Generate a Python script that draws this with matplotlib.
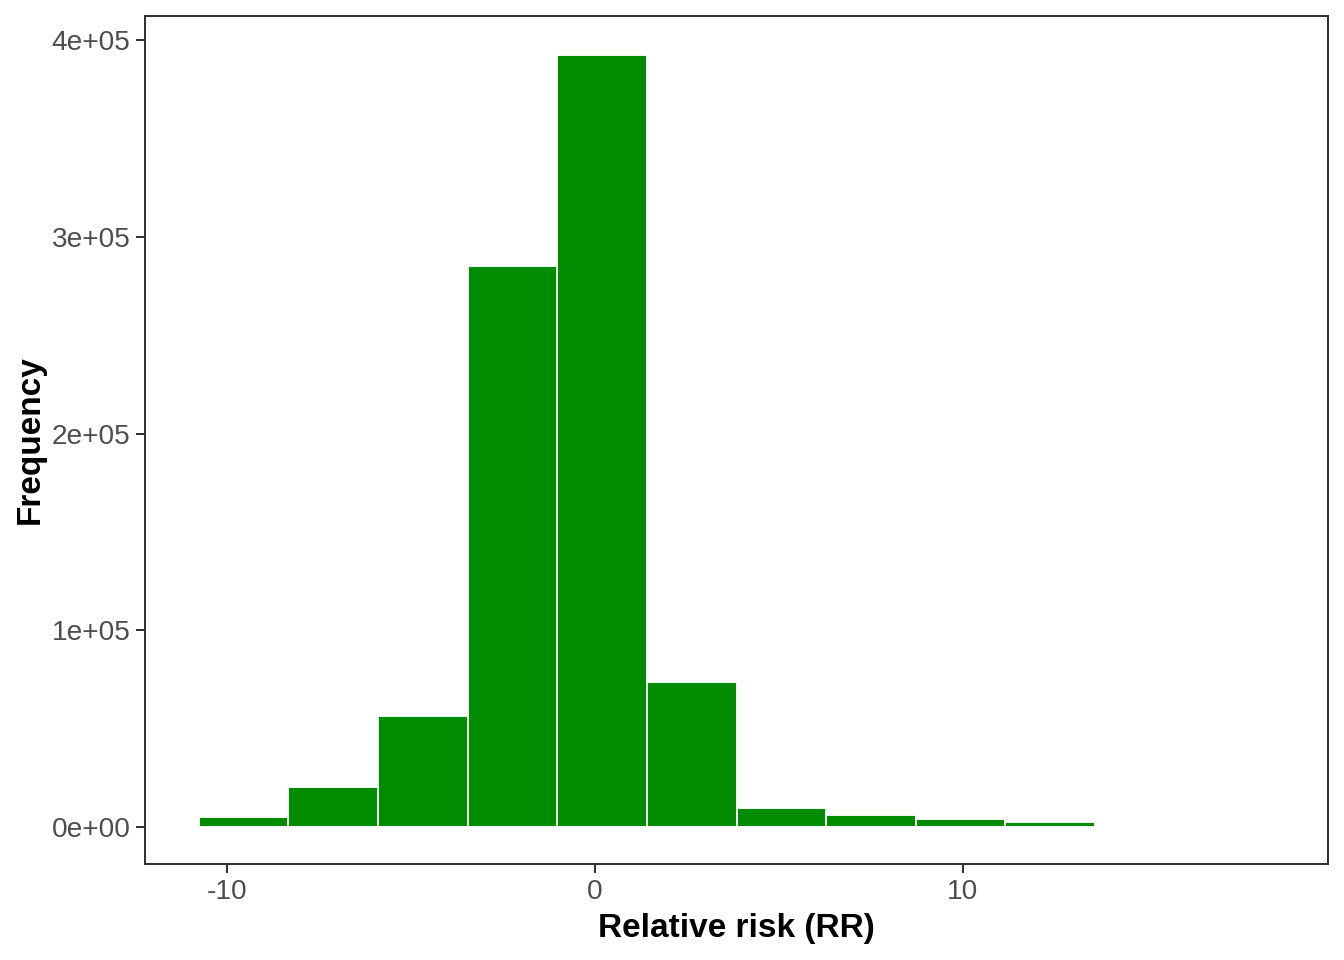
import matplotlib
matplotlib.use("Agg")
import matplotlib.pyplot as plt
from matplotlib.ticker import FuncFormatter

plt.rcParams['font.family'] = ['Liberation Sans', 'DejaVu Sans']
plt.rcParams['axes.unicode_minus'] = False

# histogram bins
bin_start = -10.77
bin_width = 2.436
counts = [5000, 20300, 56500, 285500, 392800, 73800, 9700, 6100, 4000, 2500, 150, 60]
bin_left = [bin_start + i * bin_width for i in range(len(counts))]

x_ticks = [-10, 0, 10]
y_ticks = [0, 100000, 200000, 300000, 400000]

fig = plt.figure(figsize=(7, 5), dpi=192)
ax = fig.add_axes([0.1079, 0.1, 0.8802, 0.8833])

ax.bar(bin_left, counts, width=bin_width, align='edge',
       color='#008B00', edgecolor='white', linewidth=0.7)

x_lo, x_hi = bin_left[0], bin_left[-1] + bin_width
pad = 0.05 * (x_hi - x_lo)
ax.set_xlim(x_lo - pad, x_hi + pad)
y_hi = max(counts)
ax.set_ylim(-0.048 * y_hi, 1.05 * y_hi)

ax.set_xticks(x_ticks)
ax.set_yticks(y_ticks)
ax.yaxis.set_major_formatter(FuncFormatter(lambda v, p: f"{v:.0e}"))

for s in ax.spines.values():
    s.set_color('#333333')
    s.set_linewidth(0.75)
ax.tick_params(length=3.5, width=0.75, color='#333333',
               labelsize=10.5, labelcolor='#4D4D4D', pad=2)

ax.set_xlabel('Relative risk (RR)', fontsize=12.5, fontweight='bold', labelpad=3)
ax.set_ylabel('Frequency', fontsize=12.5, fontweight='bold', labelpad=2)

fig.savefig('out.png', dpi=192)
